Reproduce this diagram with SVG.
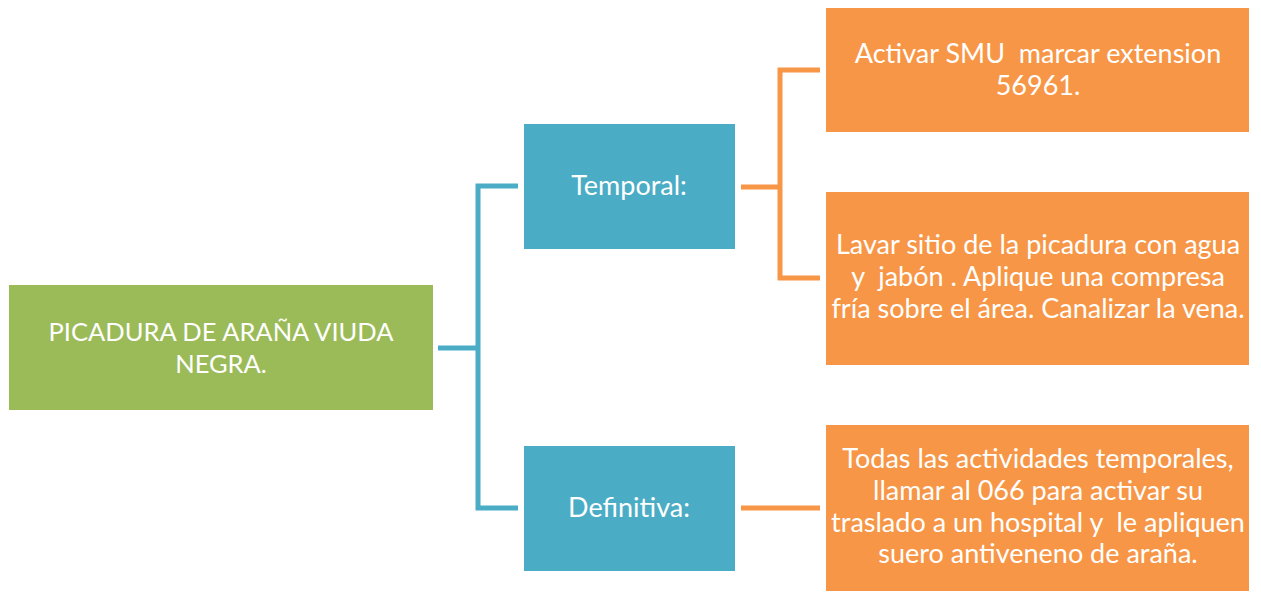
<svg xmlns="http://www.w3.org/2000/svg" width="1261" height="592" viewBox="0 0 1261 592">
<style>
text{font-family:Lato,"Open Sans","Liberation Sans",sans-serif;font-size:27px;fill:#fff;text-anchor:middle;white-space:pre}
.r{font-size:25.5px}
.g{fill:#9BBB59}.b{fill:#4BACC6}.o{fill:#F79646}
.cb{fill:none;stroke:#4BACC6;stroke-width:5}
.co{fill:none;stroke:#F79646;stroke-width:5}
</style>
<rect width="1261" height="592" fill="#fff"/>
<g id="connectors">
<path class="cb" d="M438 348H478M518 186H478V508H518"/>
<path class="co" d="M741 187H780M820 70H780V278H820"/>
<path class="co" d="M741 508H820"/>
</g>
<g id="root"><rect class="g" x="9" y="285" width="424" height="125"/>
<text class="r" x="221" y="341">PICADURA DE ARAÑA VIUDA</text><text class="r" x="221" y="373">NEGRA.</text></g>
<g id="temporal"><rect class="b" x="524" y="124" width="211" height="125"/>
<text x="629" y="195">Temporal:</text></g>
<g id="definitiva"><rect class="b" x="524" y="446" width="211" height="125"/>
<text x="629" y="517">Definitiva:</text></g>
<g id="smu"><rect class="o" x="826" y="8" width="423" height="124"/>
<text x="1038" y="63">Activar SMU  marcar extension</text><text x="1038" y="95">56961.</text></g>
<g id="lavar"><rect class="o" x="826" y="192" width="423" height="173"/>
<text x="1038" y="254">Lavar sitio de la picadura con agua</text><text x="1038" y="286">y  jabón . Aplique una compresa</text><text x="1038" y="318">fría sobre el área. Canalizar la vena.</text></g>
<g id="todas"><rect class="o" x="826" y="425" width="423" height="166"/>
<text x="1038" y="468">Todas las actividades temporales,</text><text x="1038" y="500">llamar al 066 para activar su</text><text x="1038" y="532">traslado a un hospital y  le apliquen</text><text x="1038" y="563">suero antiveneno de araña.</text></g>
</svg>
